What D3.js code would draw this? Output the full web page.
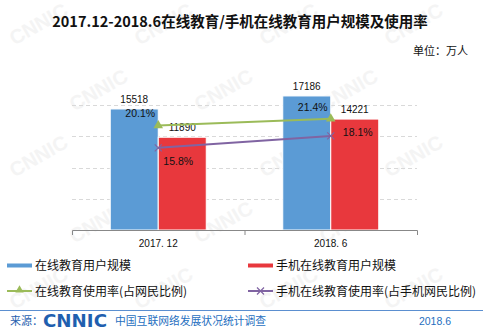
<!DOCTYPE html>
<html><head><meta charset="utf-8">
<script src="https://cdn.jsdelivr.net/npm/d3@7"></script>
<style>
body{margin:0;background:#fff;}
text{font-family:"Liberation Sans",Arial,"Noto Sans CJK SC",sans-serif;}
</style></head>
<body><svg id="c" width="483" height="332"></svg>
<script>
const categories = ["2017. 12", "2018. 6"];
const usersOnline = [15518, 17186];
const usersMobile = [11890, 14221];
const rateOnline = [20.1, 21.4];
const rateMobile = [15.8, 18.1];
const gridTicks = [0, 4000, 8000, 12000, 16000];
const seriesNames = ["在线教育用户规模", "手机在线教育用户规模", "在线教育使用率(占网民比例)", "手机在线教育使用率(占手机网民比例)"];
const colors = ["#5B9BD5", "#E8383D", "#9BBB59", "#8064A2"];

const svg = d3.select("#c");
const cjk = '"Noto Sans CJK SC","Liberation Sans",sans-serif';

// watermark (kept inside the canvas)
const wm = svg.append("g");
for (let r = 0; r < 5; r++) {
  for (let c = 0; c < 4; c++) {
    const x = 42 + c * 125 + (r % 2 ? 60 : 0);
    const y = 30 + r * 66;
    if (x > 445) continue;
    wm.append("text").attr("x", x).attr("y", y)
      .attr("transform", `rotate(-30,${x},${y})`)
      .attr("font-size", 20).attr("font-weight", "bold")
      .attr("fill", "#f4f4f4").attr("text-anchor", "middle").text("CNNIC");
  }
}

// title
svg.append("text").attr("x", 240).attr("y", 27).attr("text-anchor", "middle")
  .attr("font-size", 14.5).attr("font-weight", "bold").attr("fill", "#111")
  .style("font-family", cjk)
  .text("2017.12-2018.6在线教育/手机在线教育用户规模及使用率");
svg.append("text").attr("x", 468).attr("y", 55).attr("text-anchor", "end")
  .attr("font-size", 11).attr("fill", "#111").style("font-family", cjk).text("单位：万人");

const x0 = d3.scaleBand().domain(categories).range([72, 417]);
const y = d3.scaleLinear().domain([0, 20000]).range([230, 74]);
const y2 = d3.scaleLinear().domain([0, 30]).range([230, 74]);
const barW = 48;

// grid
svg.append("g").selectAll("line").data(gridTicks.slice(1)).join("line")
  .attr("x1", 72).attr("x2", 417).attr("y1", d => Math.round(y(d)) + 0.5).attr("y2", d => Math.round(y(d)) + 0.5)
  .attr("stroke", "#d9d9d9").attr("stroke-dasharray", "4,3");

// bars
const g = svg.append("g");
categories.forEach((cat, i) => {
  const cx = x0(cat) + x0.bandwidth() / 2;
  g.append("rect").attr("x", cx - barW).attr("y", y(usersOnline[i])).attr("width", barW)
    .attr("height", y(0) - y(usersOnline[i])).attr("fill", colors[0]).attr("stroke", "#fff").attr("stroke-width", 1);
  g.append("rect").attr("x", cx).attr("y", y(usersMobile[i])).attr("width", barW)
    .attr("height", y(0) - y(usersMobile[i])).attr("fill", colors[1]).attr("stroke", "#fff").attr("stroke-width", 1);
  g.append("text").attr("x", cx - barW / 2).attr("y", y(usersOnline[i]) - 6).attr("text-anchor", "middle")
    .attr("font-size", 10).attr("fill", "#111").text(usersOnline[i]);
  g.append("text").attr("x", cx + barW / 2).attr("y", y(usersMobile[i]) - 6).attr("text-anchor", "middle")
    .attr("font-size", 10).attr("fill", "#111").text(usersMobile[i]);
});

// axis
const axis = svg.append("g").attr("transform", "translate(0,230)")
  .call(d3.axisBottom(x0).tickSize(0).tickPadding(10));
axis.select(".domain").attr("stroke", "#888").attr("d", "M72.5,5V0.5H417.5V5");
axis.selectAll(".tick text").attr("font-size", 10).attr("fill", "#111").style("font-family", '"Liberation Sans",Arial');
axis.append("line").attr("x1", x0(categories[1]) + 0.5).attr("x2", x0(categories[1]) + 0.5)
  .attr("y1", 0).attr("y2", 5).attr("stroke", "#888");

// lines
const cxs = categories.map(c => x0(c) + x0.bandwidth() / 2);
const line = d3.line().x((d, i) => cxs[i]).y(d => y2(d));
svg.append("path").datum(rateOnline).attr("d", line).attr("fill", "none").attr("stroke", colors[2]).attr("stroke-width", 2);
svg.append("path").datum(rateMobile).attr("d", line).attr("fill", "none").attr("stroke", colors[3]).attr("stroke-width", 2);
rateOnline.forEach((v, i) => {
  svg.append("path").attr("d", d3.symbol(d3.symbolTriangle, 40)()).attr("transform", `translate(${cxs[i]},${y2(v)})`).attr("fill", colors[2]);
});
rateMobile.forEach((v, i) => {
  const px = cxs[i], py = y2(v);
  svg.append("path").attr("d", `M${px-3.5},${py-3.5}L${px+3.5},${py+3.5}M${px-3.5},${py+3.5}L${px+3.5},${py-3.5}`)
    .attr("stroke", colors[3]).attr("stroke-width", 1.2);
});
// rate labels
rateOnline.forEach((v, i) => {
  svg.append("text").attr("x", cxs[i] - 18).attr("y", y2(v) - 8).attr("text-anchor", "middle")
    .attr("font-size", 10.5).attr("fill", "#111").text(v.toFixed(1) + "%");
});
rateMobile.forEach((v, i) => {
  svg.append("text").attr("x", cxs[i] + (i === 0 ? 20 : 27)).attr("y", y2(v) + (i === 0 ? 17.5 : 0)).attr("text-anchor", "middle")
    .attr("font-size", 10.5).attr("fill", "#111").text(v.toFixed(1) + "%");
});

// legend
const lg = svg.append("g");
const leg = [
  {x: 7, y: 265.5, type: "bar"}, {x: 248, y: 265.5, type: "bar"},
  {x: 7, y: 291, type: "tri"}, {x: 248, y: 291, type: "x"}
];
leg.forEach((l, i) => {
  if (l.type === "bar") {
    lg.append("rect").attr("x", l.x).attr("y", l.y - 2).attr("width", 25).attr("height", 4).attr("fill", colors[i]);
  } else {
    lg.append("line").attr("x1", l.x).attr("x2", l.x + 25).attr("y1", l.y).attr("y2", l.y).attr("stroke", colors[i]).attr("stroke-width", 2);
    if (l.type === "tri") {
      lg.append("path").attr("d", d3.symbol(d3.symbolTriangle, 30)()).attr("transform", `translate(${l.x + 12.5},${l.y - 1})`).attr("fill", colors[i]);
    } else {
      const px = l.x + 12.5, py = l.y;
      lg.append("path").attr("d", `M${px-3.5},${py-3.5}L${px+3.5},${py+3.5}M${px-3.5},${py+3.5}L${px+3.5},${py-3.5}`).attr("stroke", colors[i]).attr("stroke-width", 1.2);
    }
  }
  lg.append("text").attr("x", l.x + 28).attr("y", l.y + 4.5).attr("font-size", 12).attr("fill", "#111")
    .style("font-family", cjk).text(seriesNames[i]);
});

// footer
svg.append("line").attr("x1", 0).attr("x2", 483).attr("y1", 310.5).attr("y2", 310.5).attr("stroke", "#5B8FD0").attr("stroke-width", 1);
svg.append("text").attr("x", 10).attr("y", 325).attr("font-size", 11).attr("fill", "#1F5FAF").style("font-family", cjk).text("来源：");
svg.append("text").attr("x", 43).attr("y", 327).attr("font-size", 17).attr("font-weight", "900").attr("fill", "#1F5FAF")
  .attr("textLength", 64).attr("lengthAdjust", "spacingAndGlyphs").style("font-family", '"DejaVu Sans",sans-serif').text("CNNIC");
svg.append("text").attr("x", 115).attr("y", 325).attr("font-size", 10.8).attr("fill", "#1F6FC0").style("font-family", cjk).text("中国互联网络发展状况统计调查");
svg.append("text").attr("x", 451).attr("y", 325).attr("text-anchor", "end").attr("font-size", 10.5).attr("fill", "#1F6FC0").text("2018.6");
</script></body></html>
